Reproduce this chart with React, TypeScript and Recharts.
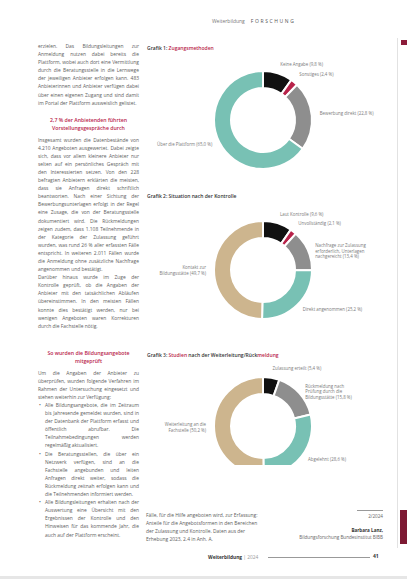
import React from 'react';
import { PieChart, Pie, Cell } from 'recharts';

// Grafik 1
const grafik1Labels = [
  'Keine Angabe (9,8 %)',
  'Sonstiges (2,4 %)',
  'Bewerbung direkt (22,8 %)',
  'Über die Plattform (65,0 %)',
];
const grafik1Values = [9.8, 2.4, 22.8, 65.0];

// Grafik 2
const grafik2Labels = [
  'Laut Kontrolle (9,6 %)',
  'Unvollständig (2,1 %)',
  'Nachfrage zur Zulassung\nerforderlich, Unterlagen\nnachgereicht (13,4 %)',
  'Direkt angenommen (25,2 %)',
  'Kontakt zur\nBildungsstätte (49,7 %)',
];
const grafik2Values = [9.6, 2.1, 13.4, 25.2, 49.7];

// Grafik 3
const grafik3Labels = [
  'Zulassung erteilt (5,4 %)',
  'Rückmeldung nach\nPrüfung durch die\nBildungsstätte (15,8 %)',
  'Abgelehnt (28,6 %)',
  'Weiterleitung an die\nFachstelle (50,2 %)',
];
const grafik3Values = [5.4, 15.8, 28.6, 50.2];

const BLACK = '#111111';
const CRIMSON = '#b8234a';
const GRAY = '#8e8e8e';
const TEAL = '#78c1b4';
const TAN = '#cdb58e';

const grafik1Colors = [BLACK, CRIMSON, GRAY, TEAL];
const grafik2Colors = [BLACK, CRIMSON, GRAY, TEAL, TAN];
const grafik3Colors = [BLACK, GRAY, TEAL, TAN];

const toRows = (labels: string[], values: number[]) =>
  labels.map((label, i) => ({ label, value: values[i] }));

const RAD = Math.PI / 180;

const renderLabel = (props: any) => {
  const { cx, cy, midAngle, outerRadius, payload } = props;
  const r = outerRadius + 8;
  const cos = Math.cos(-midAngle * RAD);
  const x = cx + r * cos;
  const y = cy + r * Math.sin(-midAngle * RAD);
  const lines: string[] = payload.label.split('\n');
  return (
    <text
      x={x}
      y={y}
      textAnchor={cos >= 0 ? 'start' : 'end'}
      fontSize={4.4}
      fill="#7a7a7a"
      fontFamily='"Open Sans", sans-serif'
    >
      {lines.map((l, i) => (
        <tspan key={i} x={x} dy={i === 0 ? 0 : 5.6}>
          {l}
        </tspan>
      ))}
    </text>
  );
};

const textStyle: React.CSSProperties = {
  fontSize: 4.9,
  lineHeight: '8.1px',
  color: '#5e5e5e',
  textAlign: 'justify',
  hyphens: 'auto',
  margin: 0,
};

const headStyle: React.CSSProperties = {
  fontSize: 5.2,
  lineHeight: '8.4px',
  color: CRIMSON,
  textAlign: 'center',
  fontWeight: 600,
  margin: '9px 0 3px 0',
};

const bulletStyle: React.CSSProperties = {
  ...textStyle,
  paddingLeft: 7,
  position: 'relative',
};

const Bullet = ({ children }: { children: React.ReactNode }) => (
  <p style={bulletStyle} lang="de">
    <span style={{ position: 'absolute', left: 1 }}>•</span>
    {children}
  </p>
);

const titleStyle: React.CSSProperties = {
  position: 'absolute',
  left: 147,
  fontSize: 5,
  color: '#333',
  fontWeight: 600,
};

export default function App() {
  return (
    <div
      style={{
        position: 'absolute',
        left: 0,
        top: 0,
        width: 407,
        height: 579,
        background: '#fff',
        overflow: 'hidden',
        fontFamily: '"Open Sans", sans-serif',
      }}
    >
      {/* header */}
      <div style={{ position: 'absolute', left: 212, top: 18, fontSize: 5, color: '#777' }}>
        Weiterbildung
        <span style={{ marginLeft: 6, letterSpacing: 1.6, color: '#555' }}>FORSCHUNG</span>
      </div>

      {/* right page edge */}
      <div style={{ position: 'absolute', left: 397, top: 38, width: 1, height: 510, background: '#e2e2e2' }} />
      <div style={{ position: 'absolute', left: 401, top: 40, width: 6, height: 5, background: '#8c1d3a' }} />
      <div style={{ position: 'absolute', left: 400, top: 510, width: 7, height: 34, background: '#7d1a33' }} />

      {/* left text column */}
      <div style={{ position: 'absolute', left: 38, top: 42, width: 101 }} lang="de">
        <p style={textStyle}>
          erzielen. Das Bildungsleitungen zur Anmeldung nutzen dabei bereits die Plattform, wobei auch
          dort eine Vermittlung durch die Beratungsstelle in die Lernwege der jeweiligen Anbieter
          erfolgen kann. 483 Anbieterinnen und Anbieter verfügen dabei über einen eigenen Zugang und
          sind damit im Portal der Plattform ausweislich gelistet.
        </p>
        <p style={headStyle}>
          2,7 % der Anbietenden führten
          <br />
          Vorstellungsgespräche durch
        </p>
        <p style={textStyle}>
          Insgesamt wurden die Datenbestände von 4.210 Angeboten ausgewertet. Dabei zeigte sich, dass
          vor allem kleinere Anbieter nur selten auf ein persönliches Gespräch mit den
          Interessierten setzen. Von den 228 befragten Anbietern erklärten die meisten, dass sie
          Anfragen direkt schriftlich beantworten. Nach einer Sichtung der Bewerbungsunterlagen
          erfolgt in der Regel eine Zusage, die von der Beratungsstelle dokumentiert wird. Die
          Rückmeldungen zeigen zudem, dass 1.108 Teilnehmende in der Kategorie der Zulassung
          geführt wurden, was rund 26 % aller erfassten Fälle entspricht. In weiteren 2.011 Fällen
          wurde die Anmeldung ohne zusätzliche Nachfrage angenommen und bestätigt.
        </p>
        <p style={textStyle}>
          Darüber hinaus wurde im Zuge der Kontrolle geprüft, ob die Angaben der Anbieter mit den
          tatsächlichen Abläufen übereinstimmen. In den meisten Fällen konnte dies bestätigt werden,
          nur bei wenigen Angeboten waren Korrekturen durch die Fachstelle nötig.
        </p>
        <p style={{ ...headStyle, marginTop: 19 }}>
          So wurden die Bildungsangebote
          <br />
          mitgeprüft
        </p>
        <p style={textStyle}>
          Um die Angaben der Anbieter zu überprüfen, wurden folgende Verfahren im Rahmen der
          Untersuchung eingesetzt und stehen weiterhin zur Verfügung:
        </p>
        <Bullet>
          Alle Bildungsangebote, die im Zeitraum bis Jahresende gemeldet wurden, sind in der
          Datenbank der Plattform erfasst und öffentlich abrufbar. Die Teilnahmebedingungen werden
          regelmäßig aktualisiert.
        </Bullet>
        <Bullet>
          Die Beratungsstellen, die über ein Netzwerk verfügen, sind an die Fachstelle angebunden und
          leiten Anfragen direkt weiter, sodass die Rückmeldung zeitnah erfolgen kann und die
          Teilnehmenden informiert werden.
        </Bullet>
        <Bullet>
          Alle Bildungsleitungen erhalten nach der Auswertung eine Übersicht mit den Ergebnissen der
          Kontrolle und den Hinweisen für das kommende Jahr, die auch auf der Plattform erscheint.
        </Bullet>
      </div>

      {/* chart titles */}
      <div style={{ ...titleStyle, top: 45 }}>
        Grafik 1: <span style={{ color: CRIMSON }}>Zugangsmethoden</span>
      </div>
      <div style={{ ...titleStyle, top: 193 }}>Grafik 2: Situation nach der Kontrolle</div>
      <div style={{ ...titleStyle, top: 352 }}>
        Grafik 3: <span style={{ color: CRIMSON }}>Studien</span> nach der Weiterleitung/Rück
        <span style={{ color: CRIMSON }}>meldung</span>
      </div>

      {/* donuts */}
      <div style={{ position: 'absolute', left: 145, top: 45 }}>
        <PieChart width={252} height={420}>
          <Pie
            data={toRows(grafik1Labels, grafik1Values)}
            dataKey="value"
            cx={113}
            cy={70}
            innerRadius={32}
            outerRadius={49}
            startAngle={90}
            endAngle={-270}
            stroke="#fff"
            strokeWidth={2}
            label={renderLabel}
            labelLine={false}
            isAnimationActive={false}
          >
            {grafik1Colors.map((c, i) => (
              <Cell key={i} fill={c} />
            ))}
          </Pie>
          <Pie
            data={toRows(grafik2Labels, grafik2Values)}
            dataKey="value"
            cx={113}
            cy={220}
            innerRadius={32}
            outerRadius={49}
            startAngle={90}
            endAngle={-270}
            stroke="#fff"
            strokeWidth={2}
            label={renderLabel}
            labelLine={false}
            isAnimationActive={false}
          >
            {grafik2Colors.map((c, i) => (
              <Cell key={i} fill={c} />
            ))}
          </Pie>
          <Pie
            data={toRows(grafik3Labels, grafik3Values)}
            dataKey="value"
            cx={113}
            cy={376}
            innerRadius={32}
            outerRadius={49}
            startAngle={90}
            endAngle={-270}
            stroke="#fff"
            strokeWidth={2}
            label={renderLabel}
            labelLine={false}
            isAnimationActive={false}
          >
            {grafik3Colors.map((c, i) => (
              <Cell key={i} fill={c} />
            ))}
          </Pie>
        </PieChart>
      </div>

      {/* bottom right text */}
      <div style={{ position: 'absolute', left: 146, top: 511, width: 116 }} lang="de">
        <p style={{ ...textStyle, textAlign: 'left' }}>
          Fälle, für die Hilfe angeboten wird, zur Erfassung: Anteile für die Angebotsformen in den
          Bereichen der Zulassung und Kontrolle. Daten aus der Erhebung 2023, 2.4 in Anh. A.
        </p>
      </div>
      <div
        style={{
          position: 'absolute',
          right: 24,
          top: 510,
          width: 100,
          textAlign: 'right',
          fontSize: 4.6,
          color: '#666',
          lineHeight: '7px',
        }}
      >
        <div style={{ borderTop: '1px solid #999', width: 26, marginLeft: 'auto', marginBottom: 2 }} />
        <div>2/2024</div>
        <div style={{ height: 7 }} />
        <div style={{ fontWeight: 700, color: '#333' }}>Barbara Lanz,</div>
        <div>Bildungsforschung Bundesinstitut BIBB</div>
      </div>

      {/* footer */}
      <div style={{ position: 'absolute', left: 208, top: 554, fontSize: 4.8, color: '#333' }}>
        <b>Weiterbildung</b> <span style={{ color: '#999' }}>| 2024</span>
      </div>
      <div style={{ position: 'absolute', left: 268, top: 557, width: 102, height: 1, background: '#999' }} />
      <div style={{ position: 'absolute', left: 373, top: 553, fontSize: 5, fontWeight: 700, color: '#333' }}>41</div>
      <div style={{ position: 'absolute', left: 0, top: 576, width: 407, height: 3, background: '#e6e6e6' }} />
    </div>
  );
}
